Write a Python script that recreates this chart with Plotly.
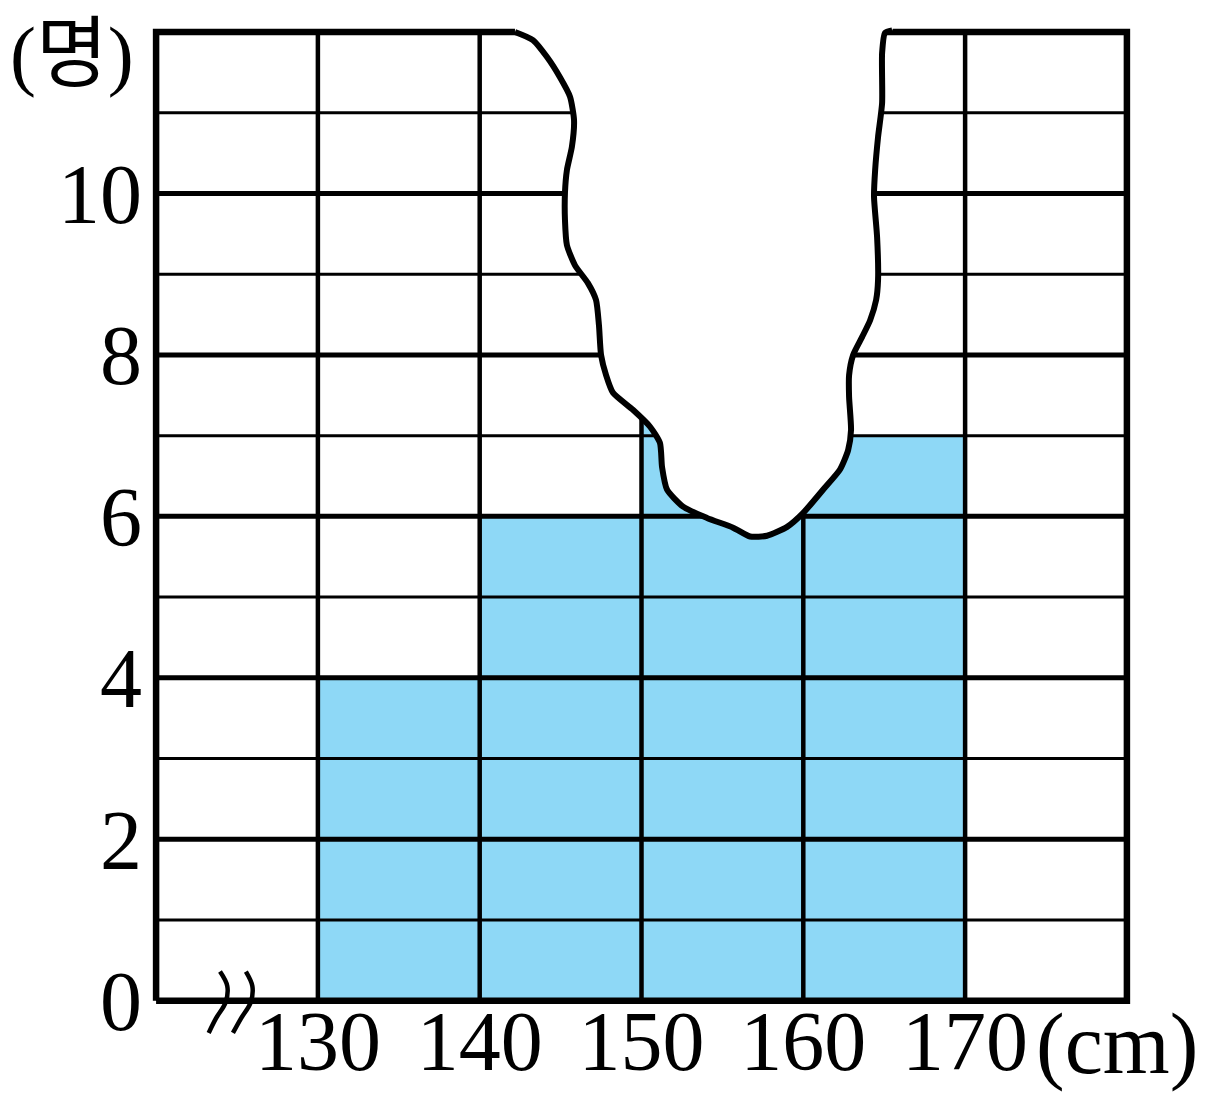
import plotly.graph_objects as go

# ---- data ----
bin_centers = [135, 145, 155, 165]
bin_width = 10
counts = [4, 6, 8, 7]          # 150-160 bar is hidden by the torn paper
x_tick_vals = [130, 140, 150, 160, 170]
x_tick_text = ["130", "140", "150", "160", "170"]
y_tick_vals = [0, 2, 4, 6, 8, 10]
y_tick_text = ["0", "2", "4", "6", "8", "10"]
grid_x = [120, 180]
grid_y = [0, 12]
x_view = [119.5, 180.5]
y_view = [-0.5, 12.1]
h_major = [2, 4, 6, 8, 10]
h_minor = [1, 3, 5, 7, 9, 11]
v_lines = [130, 140, 150, 160, 170]

# torn-paper outline (data coordinates)
tear_x = [142.18, 143.29, 144.16, 144.96, 145.58, 145.83, 145.70, 145.39, 145.27, 145.27,
          145.39, 145.89, 146.69, 147.19, 147.37, 147.50, 147.81, 148.24, 149.47, 150.53,
          151.14, 151.27, 151.58, 152.57, 154.05, 155.66, 156.71, 157.76, 159.00, 159.98,
          161.22, 162.27, 162.77, 162.95, 162.83, 162.83, 163.08, 163.63, 164.13, 164.50,
          164.62, 164.56, 164.37, 164.44, 164.62, 164.87, 164.87, 165.05, 165.49]
tear_y = [12.00, 11.90, 11.69, 11.44, 11.20, 10.91, 10.58, 10.29, 10.01, 9.67,
          9.36, 9.11, 8.89, 8.68, 8.37, 8.00, 7.75, 7.53, 7.32, 7.11,
          6.91, 6.61, 6.33, 6.12, 5.98, 5.86, 5.75, 5.76, 5.87, 6.04,
          6.33, 6.58, 6.82, 7.07, 7.48, 7.75, 8.00, 8.22, 8.43, 8.68,
          8.93, 9.46, 9.96, 10.29, 10.70, 11.12, 11.74, 11.99, 12.02]

# axis-break mark (data coordinates)
brk1_x = [123.95, 124.4, 124.3, 123.7, 123.25]
brk1_y = [0.36, 0.18, -0.02, -0.22, -0.40]
brk2_x = [125.55, 125.95, 125.85, 125.25, 124.75]
brk2_y = [0.36, 0.18, -0.02, -0.22, -0.40]

BLUE = "#8ED8F6"
FONT = "Liberation Serif, Times New Roman, serif"

fig = go.Figure()

fig.add_trace(go.Bar(x=bin_centers, y=counts, width=bin_width,
                     marker=dict(color=BLUE, line=dict(width=0)), showlegend=False,
                     hoverinfo="skip"))


def seg_h(levels):
    xs, ys = [], []
    for v in levels:
        xs += [grid_x[0], grid_x[1], None]
        ys += [v, v, None]
    return xs, ys


def seg_v(levels):
    xs, ys = [], []
    for v in levels:
        xs += [v, v, None]
        ys += [grid_y[0], grid_y[1], None]
    return xs, ys


for (xs, ys), w in [(seg_h(h_minor), 3), (seg_h(h_major), 5), (seg_v(v_lines), 4.5)]:
    fig.add_trace(go.Scatter(x=xs, y=ys, mode="lines", line=dict(color="black", width=w),
                             showlegend=False, hoverinfo="skip"))

# frame
fig.add_trace(go.Scatter(x=[grid_x[0], grid_x[1], grid_x[1], grid_x[0], grid_x[0]],
                         y=[grid_y[0], grid_y[0], grid_y[1], grid_y[1], grid_y[0]],
                         mode="lines", line=dict(color="black", width=6.5),
                         showlegend=False, hoverinfo="skip"))

# tear fill
fill_x = tear_x + [tear_x[-1], tear_x[0]]
fill_y = tear_y + [y_view[1] + 0.1, y_view[1] + 0.1]
fig.add_trace(go.Scatter(x=fill_x, y=fill_y, mode="lines", fill="toself", fillcolor="white",
                         line=dict(color="white", width=0, shape="spline", smoothing=0.6),
                         showlegend=False, hoverinfo="skip"))
fig.add_trace(go.Scatter(x=tear_x, y=tear_y, mode="lines",
                         line=dict(color="black", width=6, shape="spline", smoothing=0.6),
                         showlegend=False, hoverinfo="skip"))

for bx, by in [(brk1_x, brk1_y), (brk2_x, brk2_y)]:
    fig.add_trace(go.Scatter(x=bx, y=by, mode="lines",
                             line=dict(color="black", width=4.5, shape="spline"),
                             showlegend=False, hoverinfo="skip"))

fig.update_layout(
    width=1198, height=1099,
    margin=dict(l=140.16, r=71.16, t=15.93, b=65.63, autoexpand=False),
    paper_bgcolor="white", plot_bgcolor="white",
    bargap=0,
    xaxis=dict(range=x_view, tickvals=x_tick_vals, ticktext=x_tick_text, automargin=False,
               showgrid=False, zeroline=False, showline=False, ticks="",
               tickfont=dict(family=FONT, size=84, color="black"), ticklabelstandoff=-56),
    yaxis=dict(range=y_view, tickvals=y_tick_vals, ticktext=y_tick_text, automargin=False,
               showgrid=False, zeroline=False, showline=False, ticks="",
               tickfont=dict(family=FONT, size=84, color="black"), ticklabelstandoff=5),
    annotations=[
        dict(text="(명)", xref="paper", yref="paper", x=-0.0772, y=0.970,
             xanchor="center", yanchor="middle", showarrow=False,
             font=dict(family="Liberation Serif, Noto Sans CJK KR", size=78, color="black")),
        dict(text="(cm)", xref="paper", yref="paper", x=0.982, y=-0.0026,
             xanchor="center", yanchor="middle", showarrow=False,
             font=dict(family=FONT, size=86, color="black")),
    ],
)

fig.write_html("out.html")
